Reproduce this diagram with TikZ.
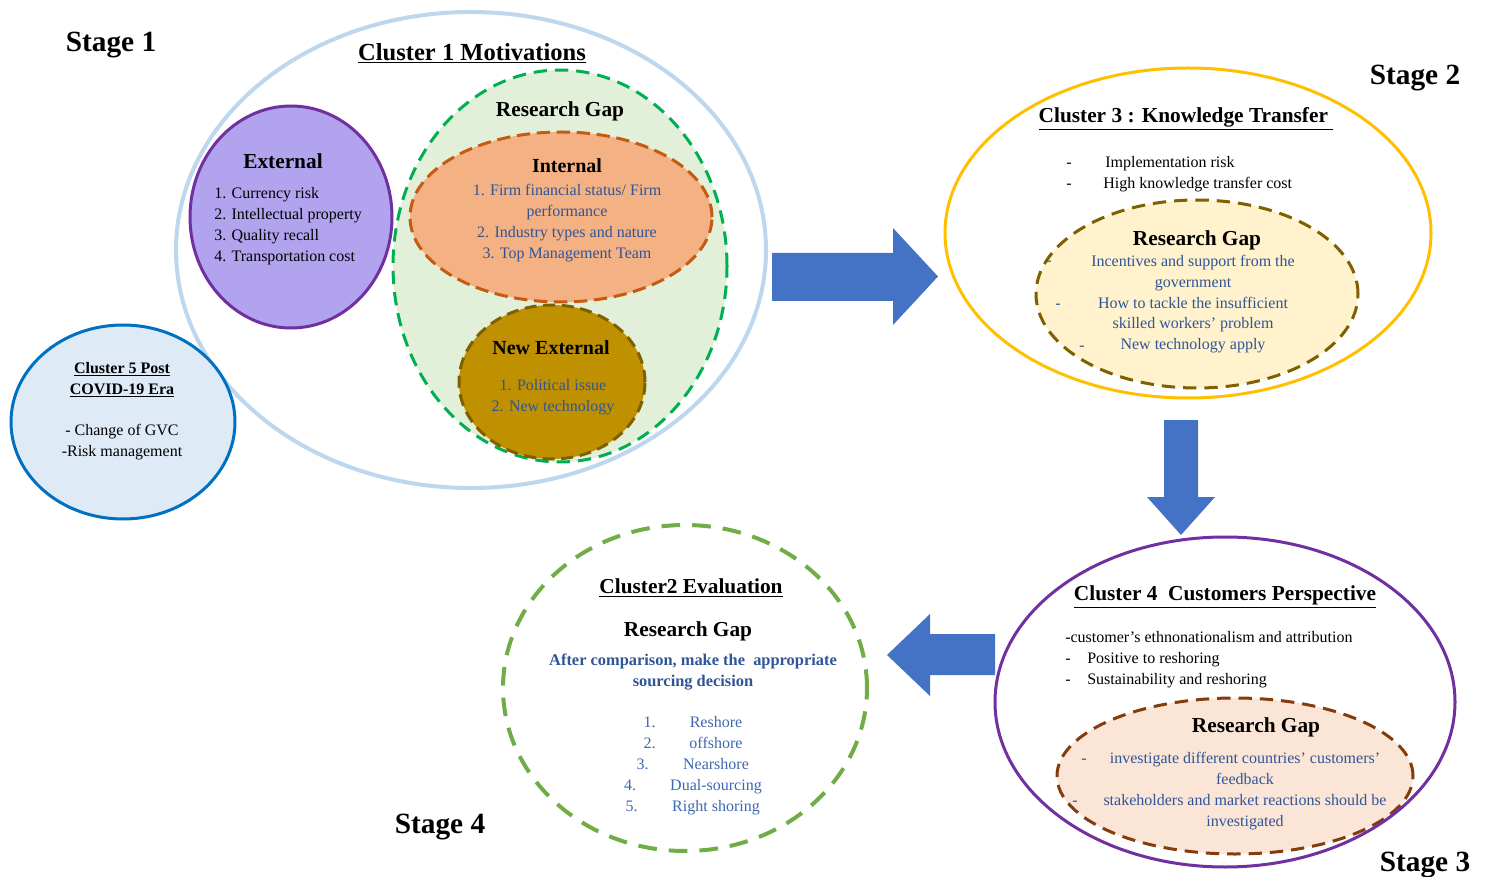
\documentclass[tikz,border=0pt]{standalone}
\usepackage{fontspec}
\setmainfont{Liberation Serif}
\usetikzlibrary{shapes.geometric}

\definecolor{skyline}{HTML}{BDD7EE}
\definecolor{lavender}{RGB}{178,163,238}
\definecolor{plum}{HTML}{7030A0}
\definecolor{mint}{HTML}{E2F0D9}
\definecolor{leaf}{HTML}{00B050}
\definecolor{apricot}{HTML}{F4B183}
\definecolor{rust}{HTML}{C55A11}
\definecolor{mustard}{HTML}{BF9000}
\definecolor{olive}{HTML}{7F6000}
\definecolor{ice}{HTML}{DEEBF7}
\definecolor{ocean}{HTML}{0070C0}
\definecolor{royal}{HTML}{4472C4}
\definecolor{amber}{HTML}{FFC000}
\definecolor{cream}{HTML}{FFF2CC}
\definecolor{peach}{HTML}{FBE5D6}
\definecolor{brownline}{HTML}{843C0C}
\definecolor{grass}{HTML}{70AD47}
\definecolor{inkblue}{HTML}{2F5597}
\definecolor{listblue}{HTML}{3D68B0}

\newcommand\szBody{\fontsize{12}{15.75}\selectfont}
\newcommand\szHead{\fontsize{16}{19}\selectfont\bfseries}
\newcommand\szSub{\fontsize{15}{18}\selectfont\bfseries}
\newcommand\szStage{\fontsize{22}{26}\selectfont\bfseries}

\begin{document}
\begin{tikzpicture}[x=0.75pt,y=-0.75pt,
  blob/.style={ellipse,inner sep=0pt,outer sep=0pt},
  txt/.style={inner sep=0pt,font=\szBody,align=center,yshift=-2pt},
  oneline/.style={text height=1.6ex,text depth=0.45ex},
  head/.style={inner sep=0pt,font=\szHead,yshift=-2.25pt},
  sub/.style={inner sep=0pt,font=\szSub,yshift=-2.25pt},
  stagelabel/.style={inner sep=0pt,font=\szStage,yshift=-2.25pt},
  blockarrow/.style={fill=royal,draw=none}]
\useasboundingbox (0,0) rectangle (1485,877);

% ---------- Stage 1: Cluster 1 ----------
\node[blob,draw=skyline,line width=3pt,fill=white,minimum width=442.5pt,minimum height=357pt] (c1) at (471,250) {};
\node[blob,draw=plum,line width=2.25pt,fill=lavender,minimum width=151.5pt,minimum height=166.5pt] (ext) at (291,217) {};
\node[blob,draw=leaf,line width=2.25pt,fill=mint,dash pattern=on 10pt off 6pt,minimum width=250.5pt,minimum height=294pt] (gap1) at (560,266) {};
\node[blob,draw=rust,line width=2.25pt,fill=apricot,dash pattern=on 10pt off 5pt,minimum width=226.5pt,minimum height=127.5pt] (int) at (561,217) {};
\node[blob,draw=olive,line width=2.25pt,fill=mustard,dash pattern=on 9pt off 5pt,minimum width=139.5pt,minimum height=115.5pt] (newext) at (552,382) {};
\node[blob,draw=ocean,line width=2.25pt,fill=ice,minimum width=168pt,minimum height=145.5pt] (c5) at (123,422) {};

\node[inner sep=0pt,font=\fontsize{18.4}{21}\selectfont\bfseries,yshift=-2.25pt] (c1title) at (472,50) {\underline{Cluster 1 Motivations}};
\node[head] (gap1title) at (560,108) {Research Gap};

\node[head] (exttitle) at (283,158) {External};
\node[txt,align=left,anchor=west] (extlist) at (214,223.5) {1. Currency risk\\2. Intellectual property\\3. Quality recall\\4. Transportation cost};

\node[sub] (inttitle) at (567,163) {Internal};
\node[txt,text=inkblue] (intlist) at (567,220.5) {1. Firm financial status/ Firm\\performance\\2. Industry types and nature\\3. Top Management Team};

\node[sub] (newexttitle) at (551,345) {New External};
\node[txt,text=inkblue] (newextlist) at (553,394.5) {1. Political issue\\2. New technology};

\node[txt,font=\szBody\bfseries] (c5title) at (122,377) {\underline{Cluster 5 Post}\\\underline{COVID-19 Era}};
\node[txt] (c5list) at (122,439.5) {- Change of GVC\\-Risk management};

\node[stagelabel] (s1) at (111,42) {Stage 1};

% ---------- Stage 2: Cluster 3 ----------
\node[blob,draw=amber,line width=2.25pt,fill=white,minimum width=364.5pt,minimum height=247.5pt] (c3) at (1188,233) {};
\node[blob,draw=olive,line width=2.25pt,fill=cream,dash pattern=on 10pt off 6pt,minimum width=241.5pt,minimum height=141pt] (gap3) at (1197,294) {};

\node[head] (c3title) at (1186,116) {\underline{Cluster 3 : Knowledge Transfer\ }};
\node[txt,oneline] (d31) at (1069,161) {-};
\node[txt,oneline,anchor=west] (c3a) at (1105,161) {Implementation risk};
\node[txt,oneline] (d32) at (1069,182) {-};
\node[txt,oneline,anchor=west] (c3b) at (1103,182) {High knowledge transfer cost};

\node[head] (gap3title) at (1197,237) {Research Gap};
\node[txt,text=inkblue,font=\fontsize{12}{15.6}\selectfont] (gap3list) at (1193,301.5) {Incentives and support from the\\government\\How to tackle the insufficient\\skilled workers’ problem\\New technology apply};
\node[txt,oneline,text=inkblue] (d33) at (1049,259) {-};
\node[txt,oneline,text=inkblue] (d34) at (1058,302) {-};
\node[txt,oneline,text=inkblue] (d35) at (1082,344) {-};

\node[stagelabel] (s2) at (1415,75) {Stage 2};

% ---------- Stage 3: Cluster 4 ----------
\node[blob,fill=white,minimum width=345pt,minimum height=247.5pt] (c4) at (1225,702) {};
\node[blob,draw=brownline,line width=2.25pt,fill=peach,dash pattern=on 10pt off 6pt,minimum width=267pt,minimum height=117pt] (gap4) at (1235,776) {};
\node[blob,draw=plum,line width=2.25pt,minimum width=345pt,minimum height=247.5pt] (c4rim) at (c4.center) {};

\node[head] (c4title) at (1225,594) {\underline{Cluster 4\ \ Customers Perspective}};
\node[txt,oneline,anchor=west] (c4a) at (1065,636) {-customer’s ethnonationalism and attribution};
\node[txt,oneline] (d41) at (1068,657) {-};
\node[txt,oneline,anchor=west] (c4b) at (1087,657) {Positive to reshoring};
\node[txt,oneline] (d42) at (1068,678) {-};
\node[txt,oneline,anchor=west] (c4c) at (1087,678) {Sustainability and reshoring};

\node[head] (gap4title) at (1256,724) {Research Gap};
\node[txt,text=inkblue] (gap4list) at (1245,788.5) {investigate different countries’ customers’\\feedback\\stakeholders and market reactions should be\\investigated};
\node[txt,oneline,text=inkblue] (d43) at (1084,757) {-};
\node[txt,oneline,text=inkblue] (d44) at (1075,799) {-};

\node[stagelabel] (s3) at (1425,862) {Stage 3};

% ---------- Stage 4: Cluster 2 ----------
\node[blob,draw=grass,line width=3pt,dash pattern=on 14pt off 9pt,minimum width=273pt,minimum height=244.5pt] (c2) at (685,688) {};
\node[head] (c2title) at (691,585) {\underline{Cluster2 Evaluation}};
\node[head] (gap2title) at (688,628) {Research Gap};
\node[txt,text=inkblue,font=\fontsize{12.3}{15.75}\selectfont\bfseries] (gap2text) at (693,669.5) {After comparison, make the\ \ appropriate\\sourcing decision};
\foreach \n/\nx/\item/\yy in {1/649.5/Reshore/721, 2/649.5/offshore/742, 3/642.5/Nearshore/763, 4/630/Dual-sourcing/784, 5/631.5/Right shoring/805}{
  \node[txt,oneline,text=listblue] (num\n) at (\nx,\yy) {\n.};
  \node[txt,oneline,text=listblue] (opt\n) at (716,\yy) {\item};
}

\node[stagelabel] (s4) at (440,824) {Stage 4};

% ---------- flow arrows between the stages ----------
\fill[blockarrow] (772,253) -- (893,253) -- (893,228) -- (938,276.5) -- (893,325) -- (893,301) -- (772,301) -- cycle;
\fill[blockarrow] (1164,420) -- (1198,420) -- (1198,497) -- (1215,497) -- (1181,535) -- (1147,497) -- (1164,497) -- cycle;
\fill[blockarrow] (995,634) -- (930,634) -- (930,614) -- (887,655) -- (930,696) -- (930,675) -- (995,675) -- cycle;
\end{tikzpicture}
\end{document}
